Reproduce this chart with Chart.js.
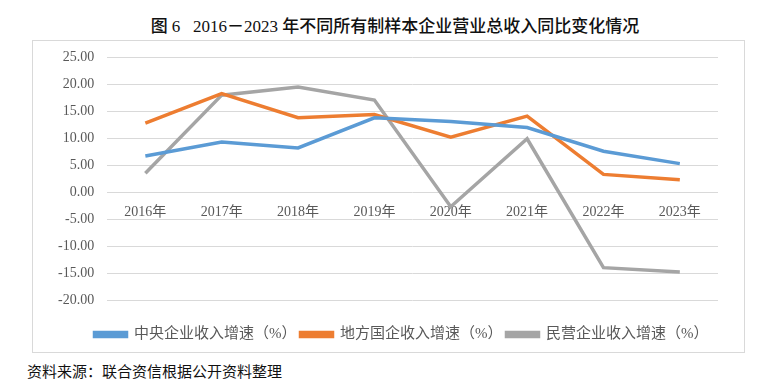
<!DOCTYPE html>
<html>
<head>
<meta charset="utf-8">
<script src="https://cdn.jsdelivr.net/npm/chart.js@4/dist/chart.umd.min.js"></script>
<style>
  body { margin: 0; background: #fff; width: 774px; height: 389px; position: relative; overflow: hidden; }
  #title { position: absolute; left: 0; top: 12px; width: 790px; text-align: center; font-family: "Liberation Serif", "Noto Sans CJK SC"; font-size: 17px; font-weight: 500; color: #111; }
  #box { position: absolute; left: 32px; top: 40px; width: 711px; height: 311px; border: 1px solid #d9d9d9; }
  #wrap { position: absolute; left: 33px; top: 36px; width: 711px; height: 317px; }
  #source { position: absolute; left: 27px; top: 360px; font-family: "Noto Sans CJK SC"; font-size: 15px; color: #111; }
</style>
</head>
<body>
<div id="title">图 6&nbsp;&nbsp;&nbsp;2016－2023 年不同所有制样本企业营业总收入同比变化情况</div>
<div id="box"></div>
<div id="wrap"><canvas id="chart"></canvas></div>
<div id="source">资料来源：联合资信根据公开资料整理</div>
<script>
const years = ["2016年", "2017年", "2018年", "2019年", "2020年", "2021年", "2022年", "2023年"];
const central = [6.7, 9.3, 8.2, 13.8, 13.1, 12.0, 7.6, 5.3];
const local = [12.8, 18.3, 13.8, 14.4, 10.2, 14.1, 3.3, 2.3];
const privateCo = [3.5, 18.0, 19.5, 17.1, -2.7, 9.9, -14.0, -14.8];
const seriesNames = ["中央企业收入增速（%）", "地方国企收入增速（%）", "民营企业收入增速（%）"];

const colors = ["#5b9bd5", "#ed7d31", "#a5a5a5"];
const font = { family: "'Liberation Serif', 'Noto Sans CJK SC'", size: 14 };

// nudge the legend a little right, like the original
const legendShift = {
  id: "legendShift",
  afterLayout(chart) {
    chart.legend.left += 20;
    chart.legend.right += 20;
  }
};

new Chart(document.getElementById("chart"), {
  type: "line",
  data: {
    labels: years,
    datasets: [central, local, privateCo].map((d, i) => ({
      label: seriesNames[i],
      data: d,
      borderColor: colors[i],
      backgroundColor: colors[i],
      borderWidth: 3.5,
      pointRadius: 0,
      tension: 0
    }))
  },
  options: {
    responsive: true,
    maintainAspectRatio: false,
    animation: false,
    layout: { padding: { left: 12, right: 26, top: 6, bottom: 1 } },
    plugins: {
      legend: {
        position: "bottom",
        title: { display: true, text: " ", font: { size: 10, lineHeight: 1 }, padding: { top: 13, bottom: 0 } },
        labels: { boxWidth: 32, boxHeight: 4, padding: 4, color: "#595959", font: { family: font.family, size: 15 } }
      },
      tooltip: { enabled: false }
    },
    scales: {
      x: {
        position: { y: 0 },
        offset: true,
        grid: { display: false },
        border: { display: false },
        ticks: { color: "#595959", font: font, padding: 4, maxRotation: 0 }
      },
      y: {
        min: -20,
        max: 25,
        grid: { color: "#d9d9d9", lineWidth: 1, drawTicks: false },
        border: { display: false },
        ticks: { stepSize: 5, color: "#595959", font: font, padding: 13, callback: v => v.toFixed(2) }
      }
    }
  },
  plugins: [legendShift]
});
</script>
</body>
</html>
